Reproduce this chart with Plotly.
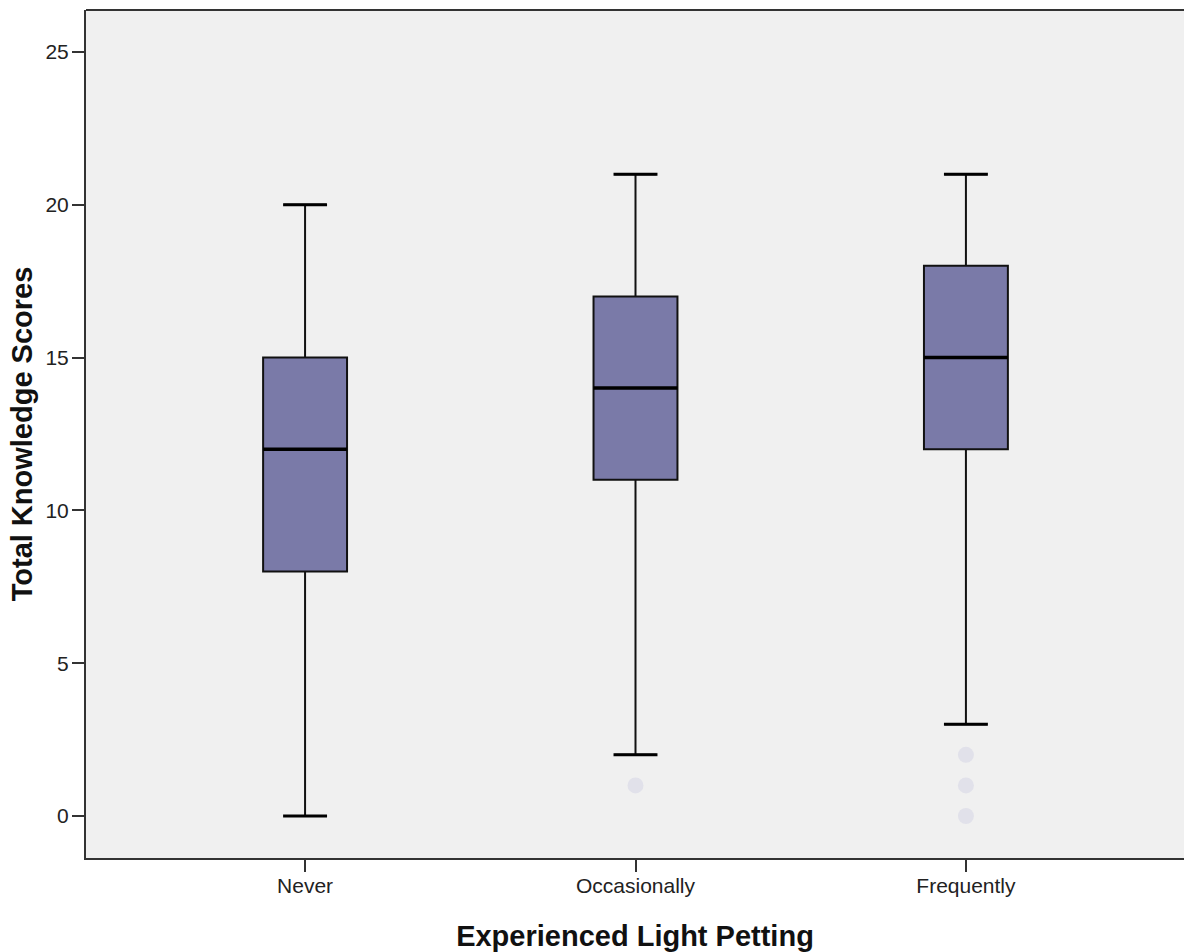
import plotly.graph_objects as go

# Summary statistics per group
categories = ["Never", "Occasionally", "Frequently"]
lower_whisker = [0, 2, 3]
q1 = [8, 11, 12]
median = [12, 14, 15]
q3 = [15, 17, 18]
upper_whisker = [20, 21, 21]

# Outlying cases (group index, score)
outlier_group = [1, 2, 2, 2]
outlier_score = [1, 2, 1, 0]

y_ticks = [0, 5, 10, 15, 20, 25]

box_fill = "#7a7aa8"
line_col = "#111111"
box_w = 0.254
cap_w = 0.127

xs = list(range(len(categories)))

fig = go.Figure()
fig.add_trace(go.Box(
    x=xs, q1=q1, median=median, q3=q3,
    lowerfence=lower_whisker, upperfence=upper_whisker,
    fillcolor=box_fill, line=dict(color=line_col, width=2),
    width=box_w, whiskerwidth=0.5, boxpoints=False,
    hoverinfo="skip", showlegend=False,
))

# Outliers
fig.add_trace(go.Scatter(
    x=outlier_group, y=outlier_score, mode="markers",
    marker=dict(size=16, color="#e1e1ea", line=dict(width=0)),
    showlegend=False, hoverinfo="skip",
))

shapes = []
# Thick median lines and whisker caps
for i in xs:
    shapes.append(dict(type="line", xref="x", yref="y",
                       x0=i - box_w / 2, x1=i + box_w / 2,
                       y0=median[i], y1=median[i],
                       line=dict(color="#000000", width=3.5)))
    for v in (lower_whisker[i], upper_whisker[i]):
        shapes.append(dict(type="line", xref="x", yref="y",
                           x0=i - cap_w / 2 - 0.003, x1=i + cap_w / 2 + 0.003,
                           y0=v, y1=v,
                           line=dict(color="#000000", width=3)))
# Top frame line
shapes.append(dict(type="line", xref="paper", yref="paper",
                   x0=0, x1=1, y0=1, y1=1,
                   line=dict(color="#333333", width=2)))

fig.update_layout(
    width=1184, height=952,
    margin=dict(l=86, r=0, t=10, b=94),
    paper_bgcolor="white", plot_bgcolor="#f0f0f0",
    font=dict(family="Liberation Sans, Arial, sans-serif", size=21, color="#222222"),
    shapes=shapes,
    xaxis=dict(
        tickmode="array", tickvals=xs, ticktext=categories,
        range=[-0.663, 2.66], showgrid=False, zeroline=False,
        showline=True, linecolor="#333333", linewidth=2,
        ticks="outside", ticklen=12, tickwidth=2, tickcolor="#333333",
        tickfont=dict(size=21), ticklabelstandoff=-4,
        title=dict(text="<b>Experienced Light Petting</b>",
                   font=dict(size=29, color="#111111"), standoff=30),
    ),
    yaxis=dict(
        tickmode="array", tickvals=y_ticks,
        range=[-1.374, 26.37], showgrid=False, zeroline=False,
        showline=True, linecolor="#333333", linewidth=2,
        ticks="outside", ticklen=12, tickwidth=2, tickcolor="#333333",
        tickfont=dict(size=21), ticklabelstandoff=-1,
        title=dict(text="<b>Total Knowledge Scores</b>",
                   font=dict(size=29, color="#111111"), standoff=4),
    ),
)

fig.write_html("out.html")
